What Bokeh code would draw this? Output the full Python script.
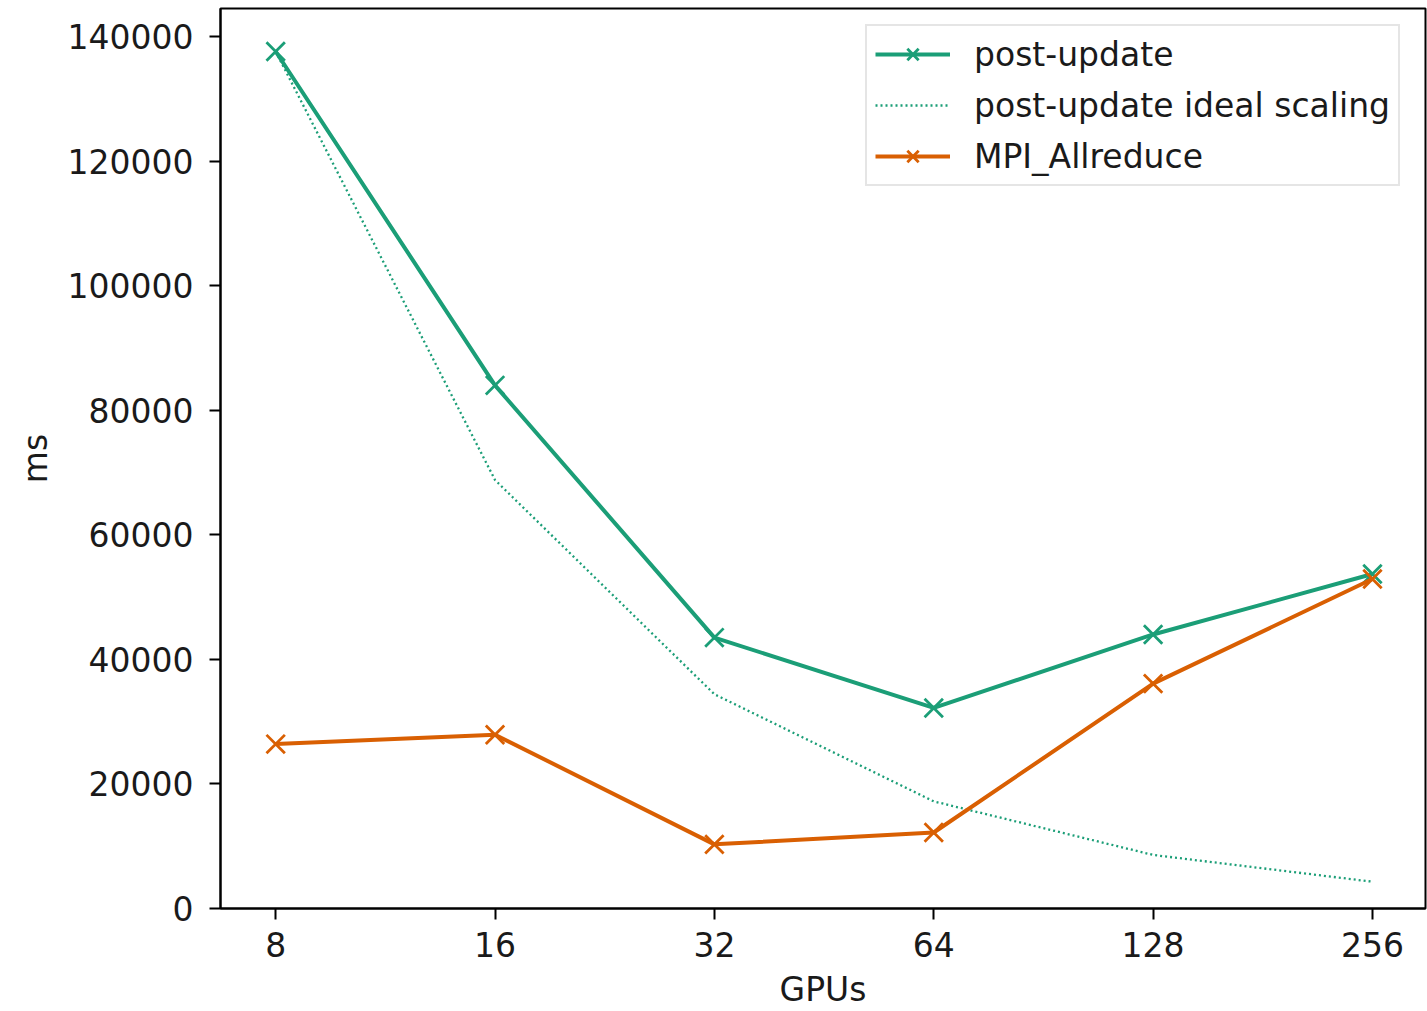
from bokeh.plotting import figure
from bokeh.models import FixedTicker, CustomJSTickFormatter, Range1d, Legend, LegendItem
from bokeh.embed import file_html
from bokeh.resources import INLINE

gpus = [8, 16, 32, 64, 128, 256]
post_update = [137600, 84000, 43500, 32200, 44000, 53700]
post_update_ideal = [137600, 68800, 34400, 17200, 8600, 4300]
mpi_allreduce = [26400, 27900, 10300, 12200, 36100, 52900]
x_ticks = [8, 16, 32, 64, 128, 256]
y_ticks = [0, 20000, 40000, 60000, 80000, 100000, 120000, 140000]

GREEN = "#1b9e77"
ORANGE = "#d95f02"
FONT = "DejaVu Sans"
FS = "33px"

p = figure(width=1427, height=1011, x_axis_type="log", output_backend="svg",
           toolbar_location=None, x_range=Range1d(6.72, 302.7), y_range=Range1d(0, 144500),
           min_border_left=220, min_border_right=2, min_border_top=8, min_border_bottom=102)
p.grid.visible = False
p.outline_line_color = "black"
p.outline_line_width = 2
p.background_fill_color = "white"
p.border_fill_color = "white"

p.xaxis.ticker = FixedTicker(ticks=x_ticks, minor_ticks=[])
p.xaxis.formatter = CustomJSTickFormatter(code="return tick.toFixed(0);")
p.yaxis.ticker = FixedTicker(ticks=y_ticks, minor_ticks=[])
p.yaxis.formatter = CustomJSTickFormatter(code="return tick.toFixed(0);")

for ax in (p.xaxis, p.yaxis):
    ax.axis_line_color = "black"
    ax.axis_line_width = 2
    ax.major_tick_line_color = "black"
    ax.major_tick_line_width = 2
    ax.major_tick_out = 11
    ax.major_tick_in = 0
    ax.minor_tick_line_color = None
    ax.major_label_text_font = FONT
    ax.major_label_text_font_size = FS
    ax.major_label_text_color = "#1a1a1a"
    ax.axis_label_text_font = FONT
    ax.axis_label_text_font_size = FS
    ax.axis_label_text_font_style = "normal"
    ax.axis_label_text_color = "#1a1a1a"

p.xaxis.major_label_standoff = 12
p.yaxis.major_label_standoff = 16
p.xaxis.axis_label = "GPUs"
p.yaxis.axis_label = "ms"
p.xaxis.axis_label_standoff = 10
p.yaxis.axis_label_standoff = 10

l1 = p.line(gpus, post_update, line_color=GREEN, line_width=4)
s1 = p.scatter(gpus, post_update, marker="x", size=26, line_color=GREEN, line_width=2.8)
l2 = p.line(gpus, post_update_ideal, line_color=GREEN, line_width=2.3, line_dash="2 3")
l3 = p.line(gpus, mpi_allreduce, line_color=ORANGE, line_width=4)
s3 = p.scatter(gpus, mpi_allreduce, marker="x", size=26, line_color=ORANGE, line_width=2.8)

legend = Legend(items=[
    LegendItem(label="post-update", renderers=[l1, s1]),
    LegendItem(label="post-update ideal scaling", renderers=[l2]),
    LegendItem(label="MPI_Allreduce", renderers=[l3, s3]),
], location=(645, 722))
legend.label_text_font = FONT
legend.label_text_font_size = FS
legend.label_text_color = "#1a1a1a"
legend.glyph_width = 75
legend.glyph_height = 40
legend.label_height = 40
legend.label_standoff = 24
legend.spacing = 11
legend.padding = 8
legend.border_line_color = "#cccccc"
legend.border_line_width = 2
legend.background_fill_alpha = 0.8
p.add_layout(legend, "center")

open("out.html", "w").write(file_html(p, INLINE))
